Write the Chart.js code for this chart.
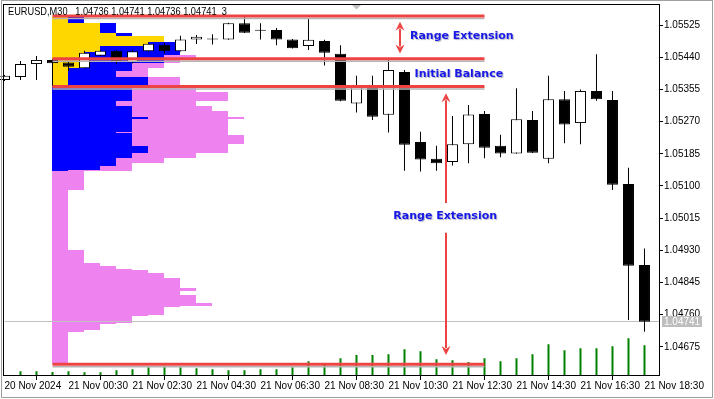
<!DOCTYPE html>
<html>
<head>
<meta charset="utf-8">
<script src="https://cdn.jsdelivr.net/npm/chart.js@4.4.1/dist/chart.umd.min.js"></script>
<style>
html,body{margin:0;padding:0;background:#ffffff;overflow:hidden;}
#c{display:block;}
</style>
</head>
<body>
<canvas id="c" width="714" height="399"></canvas>
<script>
// ---------------- data ----------------
const chartHeader = "EURUSD,M30   1.04736 1.04741 1.04736 1.04741  3";

// 30-minute bars, 20 Nov 22:30 .. 21 Nov 18:30
const opens  = [1.05380,1.05388,1.05422,1.05433,1.05426,1.05411,1.05444,1.05457,1.05426,1.05456,
                1.05473,1.05456,1.05487,1.05487,1.05487,1.05530,1.05510,1.05512,1.05487,1.05470,
                1.05483,1.05449,1.05318,1.05367,1.05288,1.05401,1.05216,1.05172,1.05163,1.05210,
                1.05290,1.05206,1.05186,1.05274,1.05172,1.05329,1.05266,1.05351,1.05327,1.05105,
                1.04891];
const highs  = [1.05393,1.05430,1.05443,1.05435,1.05430,1.05457,1.05459,1.05459,1.05459,1.05478,
                1.05478,1.05497,1.05499,1.05501,1.05531,1.05547,1.05530,1.05517,1.05488,1.05543,
                1.05486,1.05472,1.05391,1.05391,1.05433,1.05406,1.05243,1.05206,1.05285,1.05314,
                1.05298,1.05235,1.05358,1.05298,1.05391,1.05351,1.05355,1.05448,1.05351,1.05148,
                1.04935];
const lows   = [1.05377,1.05380,1.05380,1.05363,1.05404,1.05410,1.05443,1.05422,1.05424,1.05454,
                1.05449,1.05455,1.05475,1.05474,1.05486,1.05504,1.05487,1.05472,1.05463,1.05459,
                1.05418,1.05324,1.05294,1.05274,1.05241,1.05140,1.05138,1.05140,1.05154,1.05160,
                1.05173,1.05176,1.05185,1.05187,1.05160,1.05213,1.05210,1.05325,1.05089,1.04746,
                1.04715];
const closes = [1.05391,1.05422,1.05433,1.05424,1.05415,1.05452,1.05457,1.05427,1.05456,1.05476,
                1.05456,1.05487,1.05494,1.05487,1.05530,1.05505,1.05510,1.05487,1.05464,1.05486,
                1.05452,1.05325,1.05362,1.05283,1.05406,1.05209,1.05170,1.05160,1.05210,1.05289,
                1.05201,1.05186,1.05276,1.05188,1.05329,1.05262,1.05351,1.05329,1.05103,1.04889,
                1.04741];
const volumes = [null,190,190,160,190,150,150,230,270,350,
                 410,350,310,270,230,230,270,270,350,590,
                 440,710,840,840,870,1070,990,670,630,560,
                 710,590,710,870,1270,1030,1110,1110,1190,1510,
                 1230];

const timeTickBars   = [0,4,8,12,16,20,24,28,32,36,40];
const timeTickLabels = ["20 Nov 2024","21 Nov 00:30","21 Nov 02:30","21 Nov 04:30","21 Nov 06:30",
                        "21 Nov 08:30","21 Nov 10:30","21 Nov 12:30","21 Nov 14:30","21 Nov 16:30","21 Nov 18:30"];
const priceTicks = [1.05525,1.05440,1.05355,1.05270,1.05185,1.05100,1.05015,1.04930,1.04845,1.04760,1.04675];

// market profile: row boundaries (prices) and TPO counts per period colour
const profileStartBar = 3;
const profileLevels = [1.05546,1.05530,1.05505,1.05496,1.05480,1.05470,1.05454,1.05446,1.05438,1.05425,
                       1.05412,1.05404,1.05388,1.05361,1.05348,1.05325,1.05312,1.05298,1.05283,1.05277,
                       1.05243,1.05240,1.05235,1.05211,1.05206,1.05188,1.05175,1.05161,1.05153,1.05142,
                       1.05139,1.05089,1.04931,1.04897,1.04889,1.04881,1.04878,1.04870,1.04857,1.04830,
                       1.04822,1.04812,1.04791,1.04783,1.04780,1.04759,1.04756,1.04738,1.04735,1.04719,
                       1.04714,1.04630];
const tpoGold   = [1,3,4,7,6,3,2,2,2,2,1,1,1,
                   0,0,0,0,0,0,0,0,0,0,0,0,0,0,0,0,0,
                   0,0,0,0,0,0,0,0,0,0,0,0,0,0,0,0,0,0,0,0,0];
const tpoBlue   = [1,1,1,0,2,5,6,5,5,3,4,3,5,
                   5,5,4,5,5,6,5,4,5,5,5,6,5,4,4,3,1,
                   0,0,0,0,0,0,0,0,0,0,0,0,0,0,0,0,0,0,0,0,0];
const tpoViolet = [0,0,0,0,0,0,0,2,1,2,1,2,2,
                   4,6,5,5,6,6,6,7,6,7,6,5,4,3,1,2,4,
                   2,1,2,3,4,5,6,7,8,9,8,9,10,8,7,6,5,4,3,2,1];

// range levels: day high, IB high, IB low, day low
const rangeLevels = [1.05549,1.05436,1.05363,1.04629];
const rangeLineBars = [3, 30];
const currentPrice = 1.04741;
const shiftMarkerBar = 22;

const annotationLabels = ["Range Extension","Initial Balance","Range Extension"];
const annotationBars   = [25.34, 25.63, 24.30];
const annotationPrices = [1.05488, 1.05387, 1.05013];

const arrowBars  = [24.72, 27.57, 27.57];
const arrowFrom  = [1.05534, 1.05055, 1.04976];
const arrowTo    = [1.05450, 1.05345, 1.04653];
const arrowBoth  = [true, false, false];

// ---------------- chart ----------------
Chart.defaults.font.family = '"Liberation Sans", Arial, sans-serif';

const barIdx = opens.map((_, i) => i);
const bodyData = barIdx.map(i => ({x: i, y: [opens[i], closes[i]]}));
const wickData = barIdx.map(i => ({x: i, y: [lows[i], highs[i]]}));
const volData  = barIdx.filter(i => volumes[i] != null).map(i => ({x: i, y: volumes[i]}));
const bodyColors = barIdx.map(i => closes[i] > opens[i] ? '#ffffff' : '#000000');

const RED = '#ee4343';

function drawArrow(ctx, x, y0, y1, both) {
  const dir = Math.sign(y1 - y0);
  const hl = 9, hw = 4.5;
  ctx.strokeStyle = RED; ctx.fillStyle = RED; ctx.lineWidth = 2;
  ctx.beginPath();
  ctx.moveTo(x, y0 + (both ? dir * (hl - 2) : 0));
  ctx.lineTo(x, y1 - dir * (hl - 2));
  ctx.stroke();
  const head = (tx, ty, d) => {
    ctx.beginPath();
    ctx.moveTo(tx, ty);
    ctx.lineTo(tx - hw, ty - d * hl);
    ctx.lineTo(tx, ty - d * (hl - 3));
    ctx.lineTo(tx + hw, ty - d * hl);
    ctx.closePath();
    ctx.fill();
  };
  head(x, y1, dir);
  if (both) head(x, y0, -dir);
}

const overlay = {
  id: 'overlay',
  beforeDatasetsDraw(chart) {
    const {ctx, chartArea: a, scales: {x, y}} = chart;
    ctx.save();
    ctx.beginPath(); ctx.rect(a.left, a.top, a.right - a.left, a.bottom - a.top); ctx.clip();
    for (let i = 0; i < tpoGold.length; i++) {
      const y0 = Math.round(y.getPixelForValue(profileLevels[i]));
      const y1 = Math.round(y.getPixelForValue(profileLevels[i + 1]));
      let s = profileStartBar;
      [[tpoGold[i], '#FFD700'], [tpoBlue[i], '#0000FF'], [tpoViolet[i], '#EE82EE']].forEach(([n, col]) => {
        if (n > 0) {
          const x0 = Math.floor(x.getPixelForValue(s));
          const x1 = Math.floor(x.getPixelForValue(s + n));
          ctx.fillStyle = col;
          ctx.fillRect(x0, y0, x1 - x0, y1 - y0);
        }
        s += n;
      });
    }
    const py = Math.round(y.getPixelForValue(currentPrice)) - 0.5;
    ctx.strokeStyle = '#c0c0c0'; ctx.lineWidth = 1;
    ctx.beginPath(); ctx.moveTo(a.left, py); ctx.lineTo(a.right, py); ctx.stroke();
    ctx.restore();
  },
  afterDatasetsDraw(chart) {
    const {ctx, scales: {x, y}} = chart;
    ctx.save();
    const xa = x.getPixelForValue(rangeLineBars[0]), xb = x.getPixelForValue(rangeLineBars[1]);
    rangeLevels.forEach(v => {
      const py = y.getPixelForValue(v);
      ctx.strokeStyle = '#b4b4b4'; ctx.lineWidth = 1.5;
      ctx.beginPath(); ctx.moveTo(xa, py + 2.5); ctx.lineTo(xb, py + 2.5); ctx.stroke();
      ctx.strokeStyle = RED; ctx.lineWidth = 3;
      ctx.beginPath(); ctx.moveTo(xa, py); ctx.lineTo(xb, py); ctx.stroke();
    });
    for (let i = 0; i < arrowBars.length; i++) {
      drawArrow(ctx, Math.round(x.getPixelForValue(arrowBars[i])),
                y.getPixelForValue(arrowFrom[i]), y.getPixelForValue(arrowTo[i]), arrowBoth[i]);
    }
    ctx.font = 'bold 11px "DejaVu Sans", sans-serif';
    ctx.textAlign = 'left'; ctx.textBaseline = 'alphabetic';
    ctx.shadowColor = 'rgba(90,90,120,0.45)'; ctx.shadowOffsetX = 1; ctx.shadowOffsetY = 1; ctx.shadowBlur = 1;
    ctx.fillStyle = '#1818e8';
    annotationLabels.forEach((t, i) => {
      ctx.fillText(t, x.getPixelForValue(annotationBars[i]), y.getPixelForValue(annotationPrices[i]));
    });
    ctx.restore();
  },
  afterDraw(chart) {
    const {ctx, chartArea: a, scales: {x, y}} = chart;
    ctx.save();
    // plot frame
    ctx.strokeStyle = '#000'; ctx.lineWidth = 1;
    ctx.strokeRect(a.left - 1, a.top + 0.5, a.right - a.left + 0.5, a.bottom - a.top - 1);
    // current price box
    const py = Math.round(y.getPixelForValue(currentPrice));
    ctx.fillStyle = '#bdbdbd';
    ctx.fillRect(a.right + 2, py - 6, 40, 11);
    ctx.fillStyle = '#ffffff';
    ctx.font = '10px "Liberation Sans", Arial, sans-serif';
    ctx.textBaseline = 'middle'; ctx.textAlign = 'left';
    ctx.fillText(currentPrice.toFixed(5), a.right + 4, py);
    // header
    ctx.fillStyle = '#000';
    ctx.font = '10.5px "Liberation Sans", Arial, sans-serif';
    ctx.textBaseline = 'alphabetic';
    ctx.translate(a.left + 3.5, a.top + 11);
    ctx.scale(0.88, 1);
    ctx.fillText(chartHeader, 0, 0);
    ctx.setTransform(1, 0, 0, 1, 0, 0);
    // chart shift marker
    const mx = x.getPixelForValue(shiftMarkerBar);
    ctx.fillStyle = '#c0c0c0';
    ctx.beginPath(); ctx.moveTo(mx - 4.5, a.top + 1); ctx.lineTo(mx + 4.5, a.top + 1); ctx.lineTo(mx, a.top + 5.5); ctx.closePath(); ctx.fill();
    // window border
    ctx.strokeStyle = '#a0a0a0';
    ctx.strokeRect(1.5, 0.5, 711, 397);
    ctx.restore();
  }
};

new Chart(document.getElementById('c'), {
  type: 'bar',
  data: {
    datasets: [
      {label: 'body', data: bodyData, backgroundColor: bodyColors, borderColor: '#000000', borderWidth: 1,
       borderSkipped: false, barThickness: 11, minBarLength: 1, grouped: false, inflateAmount: 0, clip: false, order: 0},
      {label: 'wick', data: wickData, backgroundColor: '#000000', borderWidth: 0, barThickness: 1,
       grouped: false, inflateAmount: 0, clip: false, order: 1},
      {label: 'volume', data: volData, yAxisID: 'yv', backgroundColor: '#008000', borderWidth: 0, barThickness: 2,
       grouped: false, inflateAmount: 0, order: 2}
    ]
  },
  options: {
    responsive: false, animation: false, devicePixelRatio: 1,
    layout: {padding: {left: 4.5, top: 4, right: 0, bottom: 0}},
    plugins: {legend: {display: false}, tooltip: {enabled: false}},
    scales: {
      x: {
        type: 'linear', min: 0, max: 40.97, offset: false,
        border: {display: false},
        grid: {drawOnChartArea: false, drawTicks: true, tickLength: 4, tickColor: '#000', color: '#000'},
        ticks: {autoSkip: false, maxRotation: 0, minRotation: 0, align: 'start', padding: 0, color: '#000',
                font: {size: 10}, callback: (v, i) => timeTickLabels[i]},
        afterBuildTicks: s => { s.ticks = timeTickBars.map(v => ({value: v})); },
        afterFit: s => { s.height = 23; s.paddingLeft = 0; s.paddingRight = 0; }
      },
      y: {
        type: 'linear', position: 'right', min: 1.045978, max: 1.055807,
        border: {display: false},
        grid: {drawOnChartArea: false, drawTicks: true, tickLength: 3, tickColor: '#000', color: '#000'},
        ticks: {padding: 1, color: '#000', font: {size: 10}, callback: v => Number(v).toFixed(5)},
        afterBuildTicks: s => { s.ticks = priceTicks.map(v => ({value: v})); },
        afterFit: s => { s.width = 54; s.paddingTop = 0; s.paddingBottom = 0; }
      },
      yv: {type: 'linear', display: false, min: 0, max: 14880}
    }
  },
  plugins: [overlay]
});
</script>
</body>
</html>
